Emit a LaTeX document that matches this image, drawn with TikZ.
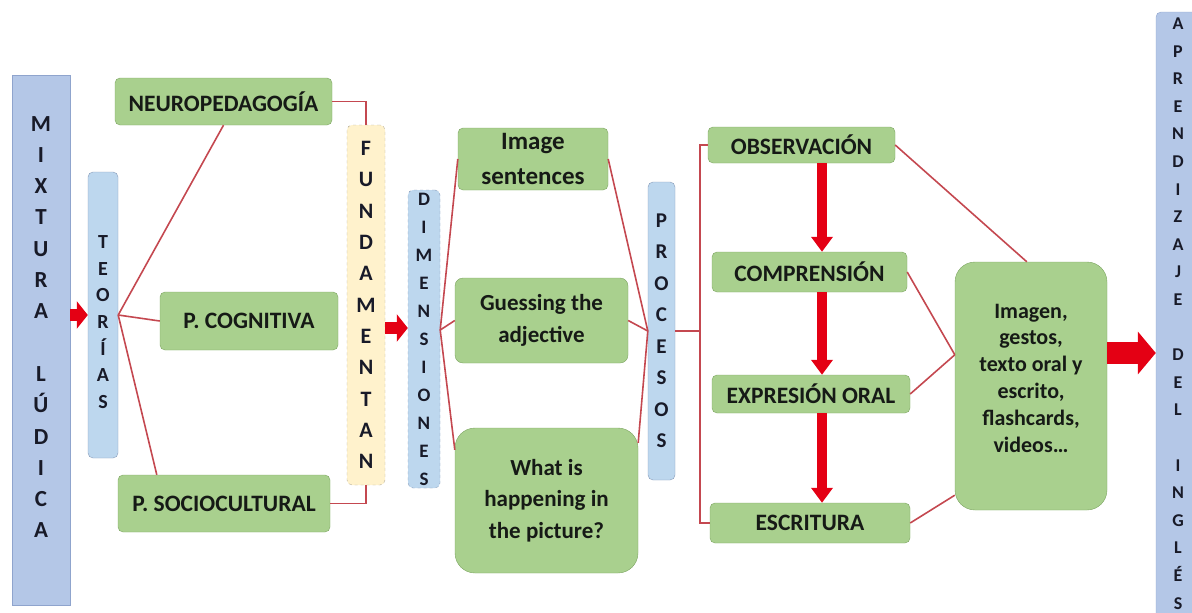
\documentclass[tikz,border=0pt]{standalone}
\usepackage{fontspec}
\setmainfont{Carlito}
\usetikzlibrary{calc}
\usetikzlibrary{arrows,arrows.meta,positioning}

\definecolor{gfill}{RGB}{169,208,142}
\definecolor{gline}{RGB}{125,165,98}
\definecolor{mfill}{RGB}{180,199,231}
\definecolor{mline}{RGB}{143,164,205}
\definecolor{bfill}{RGB}{189,215,238}
\definecolor{bline}{RGB}{135,155,185}
\definecolor{cfill}{RGB}{255,242,204}
\definecolor{cline}{RGB}{180,172,150}
\definecolor{redline}{RGB}{196,72,80}
\definecolor{redarrow}{RGB}{228,0,20}
\definecolor{txt}{RGB}{22,26,22}
\definecolor{vtxt}{RGB}{24,26,40}

\begin{document}
\begin{tikzpicture}[>=latex', x=1pt, y=-1pt]
        \tikzset{gbox/.style= {draw=gline, fill=gfill, rounded corners=5pt, align=center, inner sep=0pt, text=txt, font=\fontsize{23.5}{28}\bfseries},
        rbox/.style= {gbox, rounded corners=20pt, font=\fontsize{23}{31.5}\bfseries},
        vbar/.style= {draw=bline, fill=bfill, rounded corners=5pt, align=center, inner sep=0pt, text=vtxt},
        vtext/.style={align=center, inner sep=0pt, text=vtxt},
        rline/.style={draw=redline, line width=1.6pt},
        bigarrow/.style={draw=redarrow, line width=12pt, -{Triangle[width=27pt,length=11pt]}},
        downarrow/.style={draw=redarrow, line width=10pt, -{Triangle[width=21pt,length=15pt]}},
        }
        \useasboundingbox (0,0) rectangle (1192,613);
        \node [vbar, draw=mline, fill=mfill, rounded corners=0pt, minimum width=58pt, minimum height=530pt,
               label={[vtext, yshift=13pt, font=\fontsize{23}{31.3}\bfseries]center:{M\\I\\X\\T\\U\\R\\A\\~\\L\\Ú\\D\\I\\C\\A}}] (mixtura) at (41,340) {};
        \node [vbar, minimum width=30pt, minimum height=286pt,
               label={[vtext, yshift=-7pt, font=\fontsize{20}{26.7}\bfseries]center:{T\\E\\O\\R\\Í\\A\\S}}] (teorias) at (103,315) {};
        \node [gbox, minimum width=217pt, minimum height=47pt] (neuro) at (223.5,101.5) {NEUROPEDAGOGÍA};
        \node [gbox, minimum width=178pt, minimum height=58pt] (cogn) at (249,321) {P. COGNITIVA};
        \node [gbox, minimum width=212pt, minimum height=57pt] (socio) at (224,503.5) {P. SOCIOCULTURAL};
        \node [vbar, draw=cline, fill=cfill, dashed, minimum width=38pt, minimum height=360pt,
               font=\fontsize{22}{31.3}\bfseries] (fund) at (366,305) {F\\U\\N\\D\\A\\M\\E\\N\\T\\A\\N};
        \node [vbar, dashed, minimum width=32pt, minimum height=298pt,
               font=\fontsize{19}{28}\bfseries] (dim) at (424,339) {D\\I\\M\\E\\N\\S\\I\\O\\N\\E\\S};
        \node [gbox, minimum width=150pt, minimum height=62pt, font=\fontsize{25}{35}\bfseries] (img) at (533,159) {Image\\sentences};
        \node [rbox, rounded corners=8pt, minimum width=173pt, minimum height=85pt] (guess) at (541.5,320.5) {Guessing the\\adjective};
        \node [rbox, minimum width=183pt, minimum height=145pt] (what) at (546.5,500.5) {What is\\happening in\\the picture?};
        \node [vbar, minimum width=27pt, minimum height=298pt,
               font=\fontsize{21}{31.5}\bfseries] (procesos) at (661.5,331) {P\\R\\O\\C\\E\\S\\O\\S};
        \node [gbox, minimum width=187pt, minimum height=36pt] (obs) at (801.5,145) {OBSERVACIÓN};
        \node [gbox, minimum width=195pt, minimum height=40pt] (comp) at (809.5,272) {COMPRENSIÓN};
        \node [gbox, minimum width=198pt, minimum height=38pt] (expr) at (811,394) {EXPRESIÓN ORAL};
        \node [gbox, minimum width=200pt, minimum height=40pt] (escr) at (810,523) {ESCRITURA};
        \node [rbox, minimum width=152pt, minimum height=248pt,
               label={[vtext, text=txt, yshift=8pt, font=\fontsize{22}{26.8}\bfseries]center:{Imagen,\\gestos,\\texto oral y\\escrito,\\flashcards,\\videos…}}] (imagen) at (1031,386) {};
        \node [vbar, draw=mline, fill=mfill, minimum width=44pt, minimum height=618pt,
               label={[vtext, yshift=7.5pt, font=\fontsize{18}{27.6}\bfseries]center:{A\\P\\R\\E\\N\\D\\I\\Z\\A\\J\\E\\~\\D\\E\\L\\~\\I\\N\\G\\L\\É\\S}}] (aprend) at (1178,321) {};
        \coordinate (brk) at (700,331);
        \coordinate (arrx) at (822,0);
        \coordinate (imgin) at ([yshift=-93pt]imagen.north west);
%%% paths
        \path[rline] (teorias.east) edge (neuro.south)
                    (teorias.east) edge (cogn.west)
                    (teorias.east) edge ([xshift=39pt]socio.north west)
                    ([yshift=9pt]dim.east) edge (img.west)
                    ([yshift=9pt]dim.east) edge (guess.west)
                    ([yshift=9pt]dim.east) edge ([yshift=-22pt]what.north west)
                    (img.east) edge (procesos.west)
                    (guess.east) edge (procesos.west)
                    ([yshift=-15pt]what.north east) edge (procesos.west)
                    (procesos.east) edge (brk)
                    (obs.east) edge ([xshift=72pt]imagen.north west)
                    (comp.east) edge (imgin)
                    (expr.east) edge (imgin)
                    (escr.east) edge ([yshift=15pt]imagen.south west)
                    ;
        \draw[rline] (neuro.east) -| (fund.north);
        \draw[rline] (socio.east) -| (fund.south);
        \draw[rline] (obs.west) -| (brk) |- (escr.west);
        \draw[bigarrow] (mixtura.east |- teorias.west) -- (teorias.west);
        \draw[bigarrow] ([yshift=-23pt]fund.east) -- ([yshift=-23pt]fund.east -| dim.west);
        \draw[bigarrow, line width=22pt, -{Triangle[width=42pt,length=18pt]}] ([yshift=33pt]imagen.east) -- ([yshift=33pt]imagen.east -| aprend.west);
        \foreach \a/\b in {obs/comp,comp/expr,expr/escr}
            \draw[downarrow] (\a.south -| arrx) -- (\b.north -| arrx);
\end{tikzpicture}
\end{document}
